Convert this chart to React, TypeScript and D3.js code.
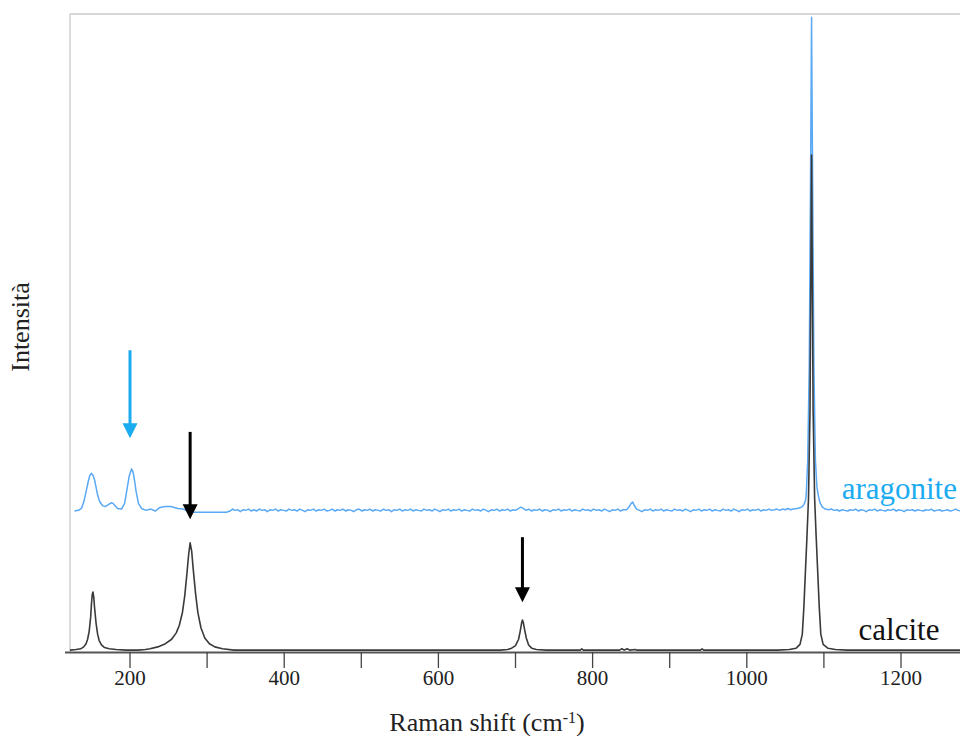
import * as d3 from 'd3';
import React, { useEffect } from 'react';

const WIDTH = 960;
const HEIGHT = 736;
const FONT = '"Liberation Serif", "Times New Roman", serif';

// [Raman shift (cm-1), intensity (a.u.)]
const calcite: [number, number][] = [
  [122, 3], [130, 4], [136, 5], [140, 8], [143, 13], [145, 20], [147, 32], [149, 55], [150, 75],
  [151, 90], [152, 94], [153, 86], [154, 70], [156, 45], [158, 28], [160, 18], [163, 11], [167, 7],
  [173, 5], [182, 4], [195, 3], [210, 3], [220, 4], [226, 5], [236, 8], [246, 13], [254, 20],
  [260, 30], [264, 42], [268, 62], [271, 88], [274, 125], [276, 152], [278, 171], [280, 158],
  [282, 130], [285, 92], [288, 62], [292, 38], [297, 22], [303, 13], [310, 8], [320, 5], [335, 3],
  [360, 3], [400, 3], [450, 3], [500, 3], [560, 3], [620, 3], [660, 3], [680, 3], [690, 4],
  [695, 6], [700, 10], [704, 20], [706, 32], [708, 46], [709, 50], [710, 47], [712, 34], [714, 22],
  [717, 11], [721, 6], [727, 4], [740, 3], [784, 3], [786, 5], [788, 3], [835, 3], [838, 5],
  [841, 3], [845, 5], [848, 3], [855, 4], [857, 3], [900, 3], [940, 3], [942, 5], [944, 3],
  [1000, 3], [1040, 3], [1055, 4], [1064, 6], [1069, 12], [1072, 28], [1074, 70], [1076, 125],
  [1078, 180], [1080, 240], [1082, 380], [1084, 779], [1086, 380], [1088, 240], [1090, 180],
  [1092, 125], [1094, 70], [1096, 28], [1099, 12], [1105, 6], [1115, 4], [1130, 3], [1200, 3],
  [1290, 3],
];

const aragonite: [number, number][] = [
  [128, 221], [133, 222], [137, 225], [140, 235], [143, 251], [146, 268], [148, 277], [150, 280],
  [152, 277], [154, 270], [156, 258], [158, 246], [160, 238], [162, 233], [165, 229], [168, 228],
  [172, 231], [176, 234], [178, 233], [180, 230], [184, 225], [189, 224], [193, 233], [196, 254],
  [199, 276], [202, 287], [204, 282], [206, 268], [208, 251], [211, 233], [215, 225], [221, 222],
  [227, 224], [233, 221], [238, 226], [245, 228], [253, 228], [262, 225], [269, 224], [275, 221],
  [282, 219], [295, 219], [310, 219], [325, 219],
  [330, 221], [333, 224], [336, 222], [340, 223], [343, 220], [347, 223], [350, 222], [354, 224],
  [357, 221], [361, 223], [364, 221], [368, 224], [371, 222], [375, 223], [378, 220], [382, 223],
  [385, 222], [389, 224], [392, 221], [396, 223], [399, 222], [403, 221], [406, 224], [410, 222],
  [413, 223], [417, 221], [420, 224], [424, 222], [427, 220], [431, 223], [434, 222], [438, 224],
  [441, 221], [445, 223], [448, 222], [452, 224], [455, 221], [459, 222], [462, 224], [466, 221],
  [469, 223], [473, 222], [476, 224], [480, 221], [483, 223], [487, 222], [490, 220], [494, 223],
  [497, 224], [501, 221], [504, 223], [508, 222], [511, 224], [515, 221], [518, 223], [522, 222],
  [525, 221], [529, 224], [532, 222], [536, 223], [539, 220], [543, 223], [546, 222], [550, 224],
  [553, 221], [557, 223], [560, 222], [564, 224], [567, 221], [571, 223], [574, 222], [578, 221],
  [581, 224], [585, 222], [588, 223], [592, 221], [595, 224], [599, 222], [602, 220], [606, 223],
  [609, 222], [613, 224], [616, 221], [620, 223], [623, 222], [627, 224], [630, 221], [634, 223],
  [637, 222], [641, 221], [644, 224], [648, 222], [651, 223], [655, 221], [658, 224], [662, 222],
  [665, 220], [669, 223], [672, 222], [676, 224], [679, 221], [683, 223], [686, 222], [690, 224],
  [693, 221], [697, 223], [700, 222], [704, 225], [707, 227], [710, 225], [714, 222], [717, 224],
  [721, 221], [724, 223], [728, 222], [731, 224], [735, 221], [738, 223], [742, 222], [745, 220],
  [749, 223], [752, 222], [756, 224], [759, 221], [763, 223], [766, 222], [770, 224], [773, 221],
  [777, 223], [780, 222], [784, 221], [787, 224], [791, 222], [794, 223], [798, 221], [801, 224],
  [805, 222], [808, 223], [812, 221], [815, 224], [819, 222], [822, 220], [826, 223], [829, 222],
  [833, 224], [836, 221], [840, 223], [844, 223], [847, 227], [850, 233], [852, 235], [854, 230],
  [857, 224], [861, 222], [864, 220], [868, 223], [871, 222], [875, 224], [878, 221], [882, 223],
  [885, 222], [889, 224], [892, 221], [896, 223], [899, 222], [903, 221], [906, 224], [910, 222],
  [913, 223], [917, 221], [920, 224], [924, 222], [927, 220], [931, 223], [934, 222], [938, 224],
  [941, 221], [945, 223], [948, 222], [952, 224], [955, 221], [959, 223], [962, 222], [966, 221],
  [969, 224], [973, 222], [976, 223], [980, 221], [983, 224], [987, 222], [990, 220], [994, 223],
  [997, 222], [1001, 224], [1004, 221], [1008, 223], [1011, 222], [1015, 224], [1018, 221],
  [1022, 223], [1025, 222], [1029, 224], [1032, 222], [1036, 223], [1039, 224], [1043, 222],
  [1046, 224], [1050, 223], [1053, 225], [1057, 223], [1060, 224], [1065, 225], [1069, 226],
  [1072, 228], [1074, 231], [1076, 237], [1077, 245], [1079, 300], [1081, 450], [1083, 800],
  [1084, 995], [1085, 800], [1087, 450], [1089, 300], [1091, 258], [1093, 244], [1095, 234],
  [1098, 227], [1102, 224], [1106, 223], [1110, 224], [1113, 222], [1117, 223], [1120, 221],
  [1124, 223], [1127, 222], [1131, 221], [1134, 223], [1138, 222], [1141, 224], [1145, 221],
  [1148, 223], [1152, 222], [1155, 220], [1159, 223], [1162, 222], [1166, 224], [1169, 221],
  [1173, 223], [1176, 222], [1180, 221], [1183, 223], [1187, 222], [1190, 224], [1194, 221],
  [1197, 223], [1201, 222], [1204, 220], [1208, 223], [1211, 222], [1215, 223], [1218, 221],
  [1222, 223], [1225, 222], [1229, 221], [1232, 223], [1236, 222], [1239, 224], [1243, 221],
  [1246, 222], [1250, 223], [1253, 221], [1257, 222], [1260, 223], [1264, 221], [1267, 222],
  [1271, 224], [1274, 222], [1278, 221], [1290, 222],
];

const xTicks = [200, 400, 600, 800, 1000, 1200];
const xMinorTicks = [300, 500, 700, 900, 1100];

// arrows pointing at the diagnostic peaks: shift, tail and tip intensity
const arrows = [
  { shift: 200, from: 473, to: 335, color: '#1aabf0' },
  { shift: 278, from: 345, to: 208, color: '#000000' },
  { shift: 709, from: 180, to: 78, color: '#000000' },
];

const labels = [
  { text: 'aragonite', shift: 1123, value: 240, color: '#1aabf0' },
  { text: 'calcite', shift: 1145, value: 19, color: '#111111' },
];

const margin = { top: 14, right: 0, bottom: 84, left: 70 };

const App = () => {
  useEffect(() => {
    document.body.style.margin = '0';
  }, []);

  const x = d3.scaleLinear().domain([200, 1200]).range([130, 901]);
  const y = d3.scaleLinear().domain([0, 1000]).range([HEIGHT - margin.bottom, margin.top]);
  const line = d3.line<[number, number]>()
    .x((d) => x(d[0]))
    .y((d) => y(d[1]));

  const bottom = HEIGHT - margin.bottom;

  return (
    <svg width={WIDTH} height={HEIGHT} style={{ display: 'block', background: '#fff' }} fontFamily={FONT}>
      <defs>
        <clipPath id="plot">
          <rect x={margin.left} y={margin.top} width={WIDTH - margin.left} height={bottom - margin.top} />
        </clipPath>
      </defs>

      {/* frame */}
      <line x1={margin.left} x2={WIDTH} y1={margin.top} y2={margin.top} stroke="#d6d6d6" strokeWidth={2} />
      <line x1={margin.left} x2={margin.left} y1={margin.top} y2={bottom} stroke="#cfcfcf" strokeWidth={1.5} />

      {/* spectra */}
      <g clipPath="url(#plot)" fill="none" strokeLinejoin="round">
        <path d={line(aragonite) ?? ''} stroke="#5aa9f5" strokeWidth={1.5} />
        <path d={line(calcite) ?? ''} stroke="#3a3a3a" strokeWidth={1.6} />
      </g>

      {/* x axis */}
      <line x1={65} x2={WIDTH} y1={bottom + 0.5} y2={bottom + 0.5} stroke="#555" strokeWidth={2} />
      {xTicks.concat(xMinorTicks).map((t) => (
        <line key={t} x1={x(t)} x2={x(t)} y1={bottom} y2={bottom + 16} stroke="#444" strokeWidth={1.3} />
      ))}
      {xTicks.map((t) => (
        <text key={t} x={x(t)} y={bottom + 33} textAnchor="middle" fontSize={21} fill="#222">{t}</text>
      ))}
      <text x={487} y={731} textAnchor="middle" fontSize={26} fill="#222">
        Raman shift (cm<tspan baselineShift="super" fontSize={16}>-1</tspan>)
      </text>
      <text transform="translate(29, 327) rotate(-90)" textAnchor="middle" fontSize={26} fill="#222">Intensità</text>

      {/* arrows */}
      {arrows.map((a) => {
        const ax = x(a.shift);
        const tip = y(a.to);
        return (
          <g key={a.shift} fill={a.color} stroke={a.color}>
            <line x1={ax} x2={ax} y1={y(a.from)} y2={tip - 12} strokeWidth={3} />
            <polygon points={`${ax - 7.5},${tip - 15} ${ax + 7.5},${tip - 15} ${ax},${tip}`} stroke="none" />
          </g>
        );
      })}

      {/* series labels */}
      {labels.map((l) => (
        <text key={l.text} x={x(l.shift)} y={y(l.value)} fontSize={31} fill={l.color}>{l.text}</text>
      ))}
    </svg>
  );
};

export default App;
